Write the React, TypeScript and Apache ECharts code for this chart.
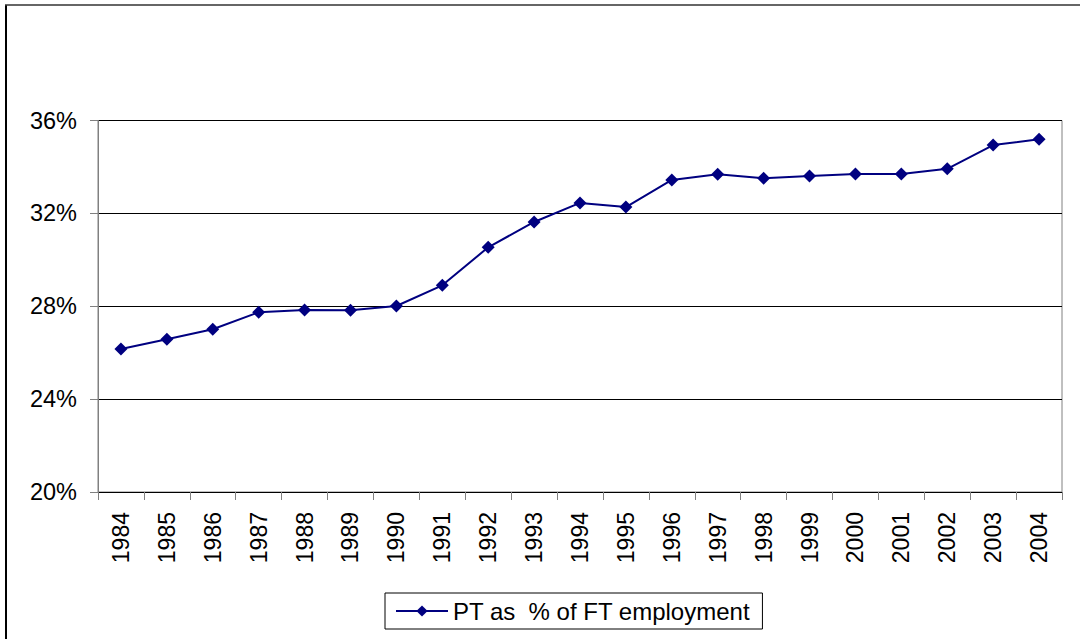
import React, { useEffect, useRef } from "react";
import * as echarts from "echarts";

const years = ["1984","1985","1986","1987","1988","1989","1990","1991","1992","1993","1994","1995","1996","1997","1998","1999","2000","2001","2002","2003","2004"];
const ptShare = [26.16,26.58,27.01,27.74,27.84,27.83,28.01,28.9,30.54,31.63,32.45,32.27,33.44,33.68,33.51,33.61,33.7,33.7,33.92,34.94,35.19];
const seriesName = "PT as  % of FT employment";

export default function App() {
  const ref = useRef<HTMLDivElement>(null);
  useEffect(() => {
    const chart = echarts.init(ref.current!, undefined, { renderer: "svg" });
    chart.setOption({
      animation: false,
      backgroundColor: "#ffffff",
      textStyle: { fontFamily: "Liberation Sans, Arial, sans-serif" },
      grid: {
        left: 98, right: 18, top: 120.5, bottom: 147,
        show: true, borderColor: "#808080", borderWidth: 1, backgroundColor: "transparent",
      },
      graphic: [
        { type: "line", shape: { x1: 6, y1: 5, x2: 6, y2: 700 }, style: { stroke: "#000", lineWidth: 2 } },
        { type: "line", shape: { x1: 5, y1: 5, x2: 1100, y2: 5 }, style: { stroke: "#333", lineWidth: 1.5 } },
      ],
      xAxis: {
        type: "category",
        data: years,
        boundaryGap: true,
        axisLine: { lineStyle: { color: "#000", width: 1 } },
        axisTick: { show: true, length: 8, inside: false, alignWithLabel: false, lineStyle: { color: "#808080" } },
        axisLabel: { rotate: 90, margin: 20, fontSize: 23, color: "#000", interval: 0 },
        splitLine: { show: false },
      },
      yAxis: {
        type: "value",
        min: 20, max: 36, interval: 4,
        axisLine: { show: true, lineStyle: { color: "#808080", width: 1 } },
        axisTick: { show: true, length: 8, lineStyle: { color: "#808080" } },
        axisLabel: { formatter: "{value}%", fontSize: 23.5, color: "#000", margin: 21 },
        splitLine: { show: true, lineStyle: { color: "#000", width: 1 } },
      },
      legend: {
        show: true,
        left: 385, top: 593,
        orient: "horizontal",
        borderColor: "#000", borderWidth: 1,
        padding: [6, 12, 6, 10],
        itemWidth: 52, itemHeight: 14, itemGap: 6,
        textStyle: { fontSize: 24, color: "#000" },
        data: [{ name: seriesName }],
      },
      series: [
        {
          name: seriesName,
          type: "line",
          data: ptShare,
          symbol: "diamond",
          symbolSize: 13,
          lineStyle: { color: "#000080", width: 2 },
          itemStyle: { color: "#000080" },
        },
      ],
    });
    return () => chart.dispose();
  }, []);
  return <div ref={ref} style={{ position: "fixed", left: 0, top: 0, width: 1080, height: 639 }} />;
}
